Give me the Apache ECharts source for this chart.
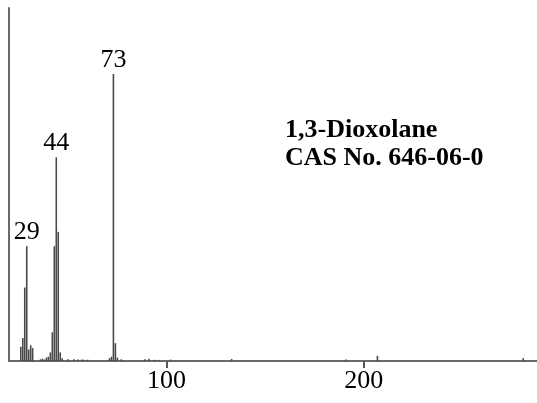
<!DOCTYPE html>
<html><head><meta charset="utf-8">
<script src="https://cdn.jsdelivr.net/npm/echarts@6/dist/echarts.min.js"></script>
<style>html,body{margin:0;padding:0;background:#fff}#c{width:537px;height:403px}</style>
</head><body><div id="c"></div>
<script>
var mz = [26,27,28,29,30,31,32,36,37,38,39,40,41,42,43,44,45,46,47,50,53,55,57,58,60,71,72,73,74,75,77,89,91,94,96,102,133,191,207,281];
var intensity = [5,8,25.6,40,4,5.5,4.5,0.6,0.8,0.5,1.2,1.5,3,10,40,71,45,3,1,0.6,0.6,0.5,0.5,0.4,0.4,1,1.5,100,6.2,1.2,0.6,0.6,0.8,0.4,0.4,0.5,0.7,0.5,1.8,1];
var labeledPeaks = [29,44,73];
var xTicks = [100,200];
var titleLines = ['1,3-Dioxolane','CAS No. 646-06-0'];

var serif = '"Liberation Serif","DejaVu Serif",serif';
var data = mz.map(function(m,i){
  var d = {value:[m,intensity[i]]};
  if (labeledPeaks.indexOf(m) >= 0) {
    d.label = {show:true, position:'top', distance:1, formatter:String(m), color:'#000', fontSize:26, fontFamily:serif};
  }
  return d;
});
var chart = echarts.init(document.getElementById('c'));
chart.setOption({
  animation:false,
  grid:{left:9,right:0,top:8,bottom:42,containLabel:false},
  xAxis:{type:'value',min:20,max:288,
    axisLine:{show:true,lineStyle:{color:'#6a6a6a',width:2}},
    axisTick:{show:true,customValues:xTicks,length:7,inside:false,lineStyle:{color:'#555',width:2}},
    axisLabel:{show:true,customValues:xTicks,color:'#000',fontSize:26,fontFamily:serif,margin:7},
    splitLine:{show:false}},
  yAxis:{type:'value',min:0,max:123,
    axisLine:{show:true,lineStyle:{color:'#6a6a6a',width:2}},
    axisTick:{show:false},axisLabel:{show:false},splitLine:{show:false}},
  series:[{type:'bar',data:data,barWidth:1.6,itemStyle:{color:'#4a4a4a'},barGap:'0%'}],
  graphic:[
    {type:'text',left:285,top:117,style:{text:titleLines[0],font:'bold 26px '+serif,fill:'#000'}},
    {type:'text',left:285,top:145,style:{text:titleLines[1],font:'bold 26px '+serif,fill:'#000'}}
  ]
});
</script></body></html>
